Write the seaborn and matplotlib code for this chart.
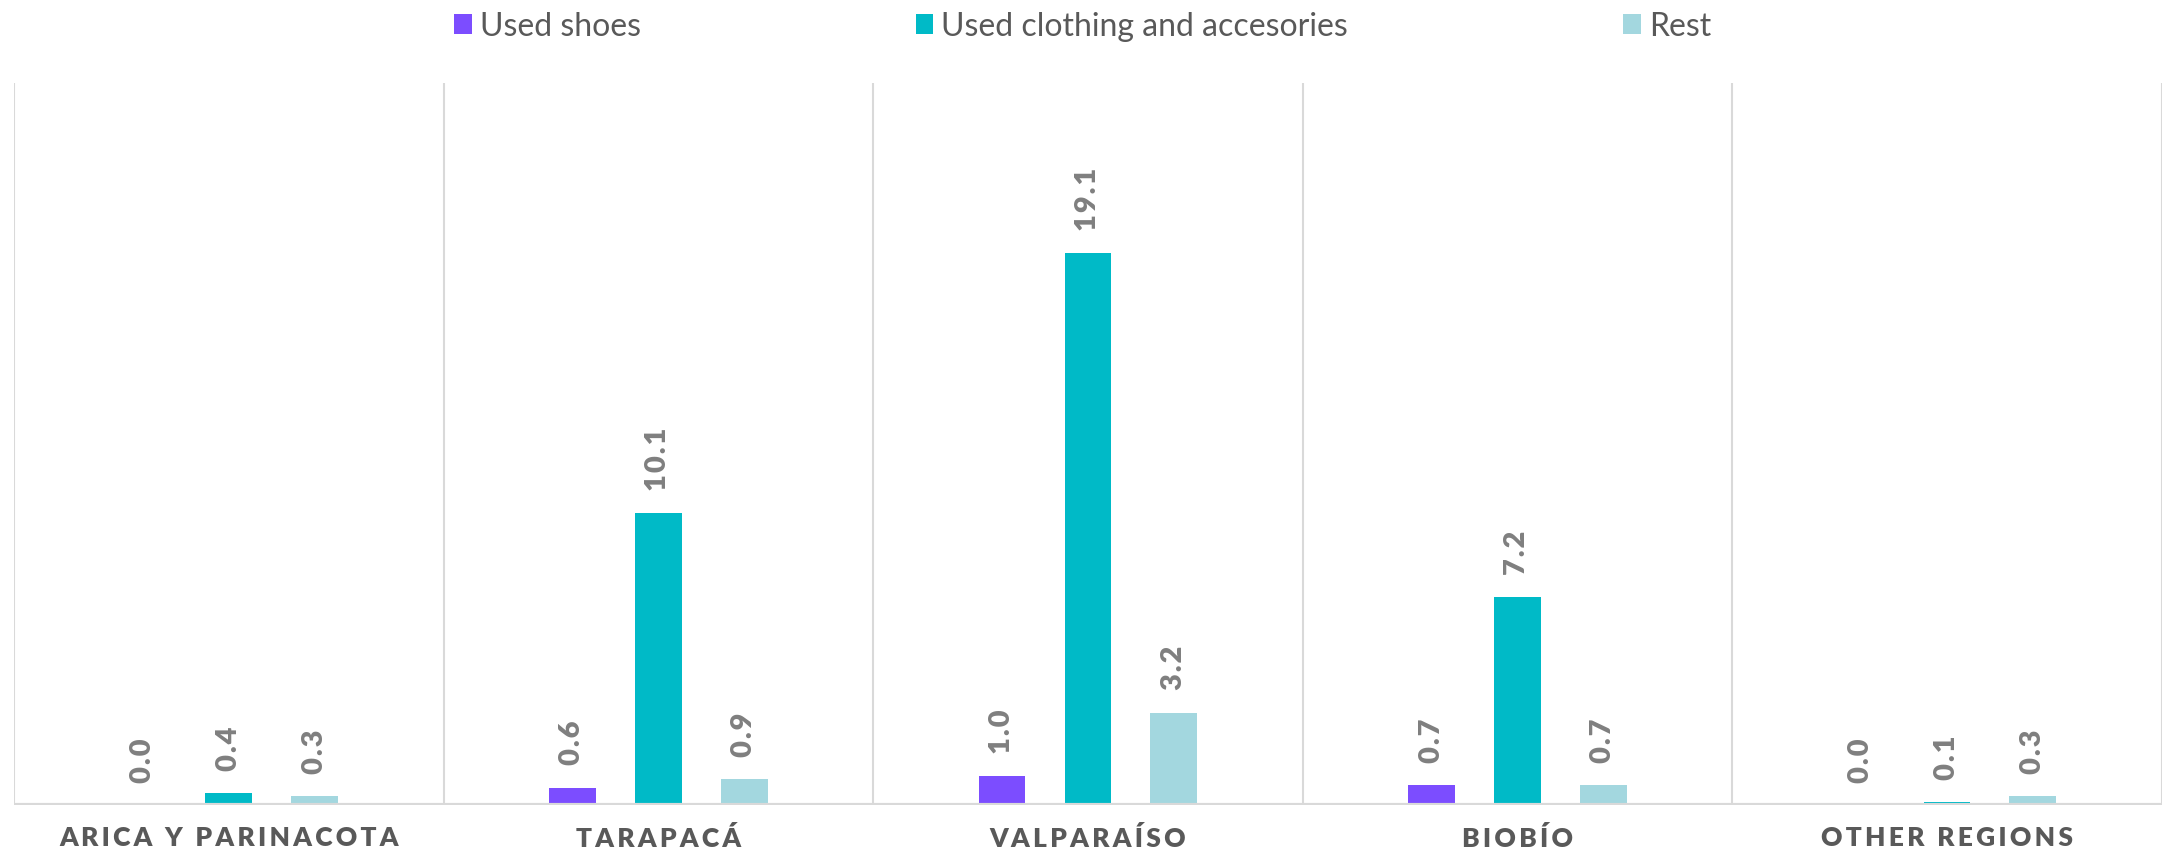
import pandas as pd
import matplotlib.pyplot as plt
import seaborn as sns
from matplotlib.patches import Patch

# data
regions = ['ARICA Y PARINACOTA', 'TARAPACÁ', 'VALPARAÍSO', 'BIOBÍO', 'OTHER REGIONS']
series = ['Used shoes', 'Used clothing and accesories', 'Rest']
used_shoes = [0.0, 0.6, 1.0, 0.7, 0.0]
used_clothing = [0.4, 10.1, 19.1, 7.2, 0.1]
rest = [0.3, 0.9, 3.2, 0.7, 0.3]
colors = ['#7C4DFF', '#00BAC7', '#A3D7DF']

rows = []
for name, vals in zip(series, [used_shoes, used_clothing, rest]):
    for reg, v in zip(regions, vals):
        rows.append({'region': reg, 'series': name, 'value': v})
df = pd.DataFrame(rows)

sns.set_style('white')
plt.rcParams['font.family'] = ['Lato', 'DejaVu Sans']


def spread(s, sep='\u2009'):
    # fake letter spacing
    return sep.join(list(s))


fig = plt.figure(figsize=(21.65, 8.55), dpi=100)
ax = fig.add_axes([0.0065, 0.0585, 0.992, 0.8445])

sns.barplot(data=df, x='region', y='value', hue='series', order=regions,
            hue_order=series, palette=colors, saturation=1, width=0.6,
            gap=0.455, linewidth=0, ax=ax)
ax.get_legend().remove()

ax.set_ylim(0, 25)
ax.set_xlim(-0.5, len(regions) - 0.5)

# value labels, rotated above each bar
for cont in ax.containers:
    for bar, val in zip(cont, cont.datavalues):
        ax.annotate(spread(f'{val:.1f}', '\u200a'),
                    (bar.get_x() + bar.get_width() / 2, bar.get_height()),
                    xytext=(0, 16), textcoords='offset points', rotation=90,
                    ha='center', va='bottom', fontsize=21, fontweight='heavy',
                    color='#7F7F7F')

# separators between categories
for xv in range(len(regions) + 1):
    ax.axvline(xv - 0.5, color='#D9D9D9', lw=1.5, zorder=0)
ax.axhline(0, color='#D9D9D9', lw=3, zorder=3)

for s in ax.spines.values():
    s.set_visible(False)
ax.set_yticks([])
ax.set_xlabel('')
ax.set_ylabel('')
ax.set_xticks(range(len(regions)))
ax.set_xticklabels([spread(r) for r in regions], fontsize=19, fontweight='heavy',
                   color='#595959')
ax.tick_params(axis='x', length=0, pad=15)

handles = [Patch(facecolor=c, edgecolor='none') for c in colors]
fig.legend(handles, series, loc='center', bbox_to_anchor=(0.5, 0.969), ncol=3,
           frameon=False, handlelength=0.56, handleheight=0.56,
           handletextpad=0.25, columnspacing=8.6, labelcolor='#595959',
           prop={'family': ['Lato', 'DejaVu Sans'], 'weight': 'normal', 'size': 23})

fig.savefig('out.png', dpi=100)
